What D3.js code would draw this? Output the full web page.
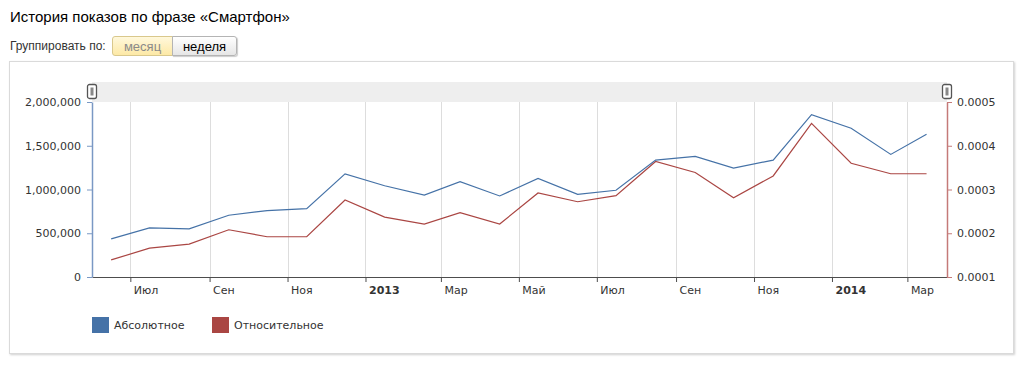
<!DOCTYPE html>
<meta charset="utf-8">
<style>
body { margin: 0; background: #fff; font-family: "Liberation Sans", Arial, sans-serif; }
.title { position: absolute; left: 10px; top: 8px; font-size: 15px; color: #000; }
.group { position: absolute; left: 10px; top: 39px; font-size: 12px; color: #333; }
.btn { position: absolute; top: 36px; height: 20px; line-height: 20px; font-size: 13px; text-align: center; box-sizing: border-box; }
.btn.on { left: 112px; width: 61px; color: #8a8a8a; border: 1px solid #d9c88c; border-radius: 3px 0 0 3px;
  background: linear-gradient(#fff8dc, #fde9a6); }
.btn.off { left: 172px; width: 65px; color: #000; border: 1px solid #b4b4b4; border-radius: 0 3px 3px 0;
  background: linear-gradient(#ffffff, #e6e6e6); box-shadow: 1px 1px 1px #ccc; }
.box { position: absolute; left: 9px; top: 61px; width: 1003px; height: 291px; border: 1px solid #dadada;
  box-shadow: 1px 1px 2px #d0d0d0; }
svg { position: absolute; left: 0; top: 0; }
.axis text { font-family: "DejaVu Sans", Verdana, sans-serif; font-size: 11px; fill: #333; }
</style>
<div class="title">История показов по фразе «Смартфон»</div>
<div class="group">Группировать по:</div>
<div class="btn on">месяц</div>
<div class="btn off">неделя</div>
<div class="box"></div>
<svg width="1024" height="368"></svg>
<script src="https://d3js.org/d3.v7.min.js"></script>
<script>
// months of the series (points sit mid-month)
var months = ["2012-06","2012-07","2012-08","2012-09","2012-10","2012-11","2012-12",
  "2013-01","2013-02","2013-03","2013-04","2013-05","2013-06","2013-07","2013-08","2013-09",
  "2013-10","2013-11","2013-12","2014-01","2014-02","2014-03"];
var absolute = [436000, 561000, 550000, 706000, 759000, 781000, 1178000,
  1043000, 937000, 1089000, 926000, 1127000, 945000, 991000, 1336000, 1378000,
  1245000, 1336000, 1856000, 1700000, 1401000, 1632000];
var relative = [0.000139, 0.000166, 0.000175, 0.000208, 0.000192, 0.000192, 0.000276,
  0.000237, 0.000221, 0.000247, 0.000221, 0.000292, 0.000272, 0.000286, 0.000364, 0.000339,
  0.000281, 0.000331, 0.000451, 0.000360, 0.000336, 0.000336];
var leftTicks = [0, 500000, 1000000, 1500000, 2000000];
var rightTicks = [0.0001, 0.0002, 0.0003, 0.0004, 0.0005];
var monthNames = ["Янв","Фев","Мар","Апр","Май","Июн","Июл","Авг","Сен","Окт","Ноя","Дек"];
var seriesNames = ["Абсолютное", "Относительное"];
var colors = ["#4572A7", "#AA4643"];

var svg = d3.select("svg"),
    pl = 92, pr = 947, pt = 102, pb = 277;

var parse = d3.timeParse("%Y-%m");
var dates = months.map(function(m) { return d3.timeDay.offset(parse(m), 15); });

var x = d3.scaleTime()
    .domain([new Date(2012, 5, 1), new Date(2014, 3, 1)])
    .range([pl, pr]);
var yL = d3.scaleLinear().domain([0, 2000000]).range([pb, pt]);
var yR = d3.scaleLinear().domain([0.0001, 0.0005]).range([pb, pt]);

var xTicks = d3.timeMonth.every(2).range(new Date(2012, 5, 2), new Date(2014, 3, 1));

// navigator band
svg.append("rect")
    .attr("x", pl).attr("y", 82)
    .attr("width", pr - pl).attr("height", pt - 82)
    .attr("fill", "#eeeeee");

// vertical grid
svg.append("g").selectAll("line")
  .data(xTicks)
  .enter().append("line")
    .attr("x1", function(d) { return Math.round(x(d)) + 0.5; })
    .attr("x2", function(d) { return Math.round(x(d)) + 0.5; })
    .attr("y1", pt).attr("y2", pb)
    .attr("stroke", "#dddddd");

// x axis
var gx = svg.append("g")
    .attr("class", "axis")
    .attr("transform", "translate(0," + pb + ")")
    .call(d3.axisBottom(x).tickValues(xTicks).tickSize(5).tickSizeOuter(0)
      .tickFormat(function(d) { return d.getMonth() == 0 ? d.getFullYear() : monthNames[d.getMonth()]; }));
gx.select(".domain").attr("stroke", "#4d4d4d");
gx.selectAll(".tick line").attr("stroke", "#4d4d4d");
gx.selectAll(".tick text")
    .attr("text-anchor", "start")
    .attr("x", 3).attr("y", 9)
    .attr("font-weight", function(d) { return d.getMonth() == 0 ? "bold" : null; });

// left axis
var gl = svg.append("g")
    .attr("class", "axis")
    .attr("transform", "translate(" + pl + ",0)")
    .call(d3.axisLeft(yL).tickValues(leftTicks).tickSize(5).tickSizeOuter(0).tickPadding(6)
      .tickFormat(d3.format(",")));
gl.select(".domain").attr("stroke", "#7a98c4").attr("stroke-width", 1.5);
gl.selectAll(".tick line").attr("stroke", "#7a98c4");

// right axis
var gr = svg.append("g")
    .attr("class", "axis")
    .attr("transform", "translate(" + pr + ",0)")
    .call(d3.axisRight(yR).tickValues(rightTicks).tickSize(5).tickSizeOuter(0).tickPadding(5)
      .tickFormat(d3.format(".4f")));
gr.select(".domain").attr("stroke", "#c47a78").attr("stroke-width", 1.5);
gr.selectAll(".tick line").attr("stroke", "#c47a78");

// lines
var lineAbs = d3.line()
    .x(function(d, i) { return x(dates[i]); })
    .y(function(d) { return yL(d); });
var lineRel = d3.line()
    .x(function(d, i) { return x(dates[i]); })
    .y(function(d) { return yR(d); });

svg.append("path").datum(relative)
    .attr("d", lineRel)
    .attr("fill", "none").attr("stroke", colors[1]).attr("stroke-width", 1.2);
svg.append("path").datum(absolute)
    .attr("d", lineAbs)
    .attr("fill", "none").attr("stroke", colors[0]).attr("stroke-width", 1.2);

// navigator handles
[pl, pr].forEach(function(hx) {
  var h = svg.append("g").attr("transform", "translate(" + (hx - 4.5) + ",84.5)");
  h.append("rect").attr("width", 9).attr("height", 14).attr("rx", 2)
    .attr("fill", "#fff").attr("stroke", "#555").attr("stroke-width", 1.3);
  h.append("rect").attr("x", 3).attr("y", 3).attr("width", 3).attr("height", 8)
    .attr("fill", "#888");
});

// legend
var legend = svg.append("g")
    .selectAll("g")
    .data(seriesNames)
    .enter().append("g")
      .attr("transform", function(d, i) { return "translate(" + (92 + i * 120) + ",317)"; });
legend.append("rect")
    .attr("width", 17).attr("height", 16)
    .attr("fill", function(d, i) { return colors[i]; });
legend.append("text")
    .attr("x", 22).attr("y", 8).attr("dy", "0.35em")
    .attr("font-family", "DejaVu Sans, Verdana, sans-serif")
    .attr("font-size", 11).attr("fill", "#333")
    .text(function(d) { return d; });
</script>
